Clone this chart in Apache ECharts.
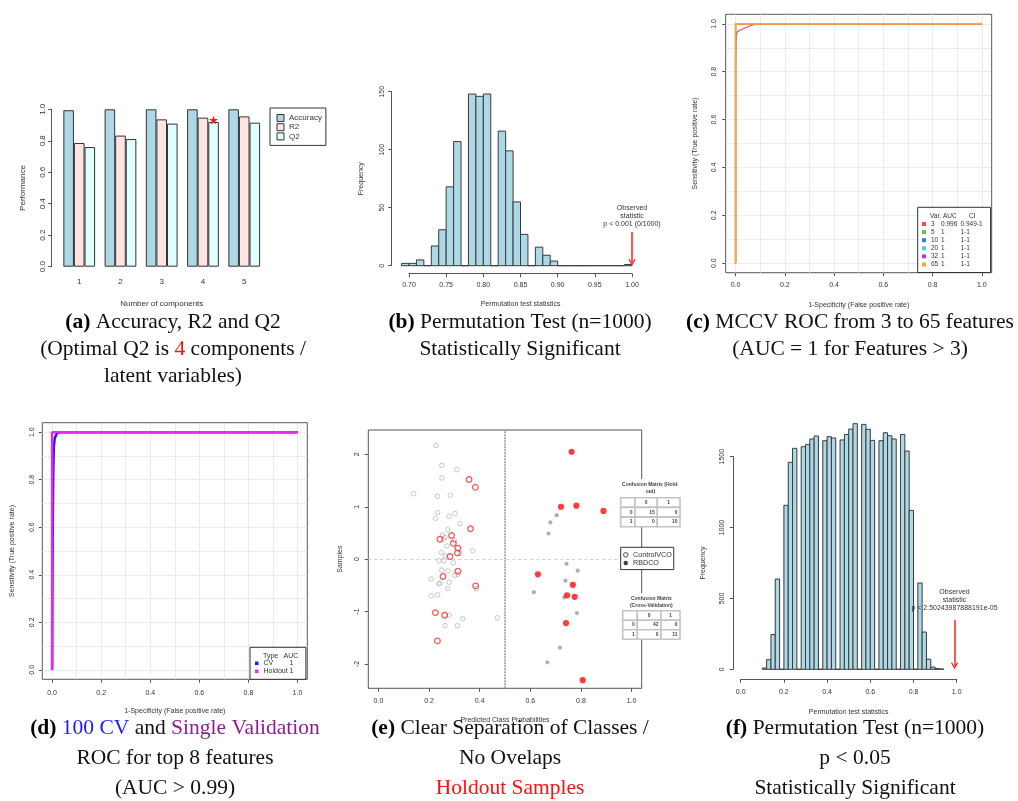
<!DOCTYPE html>
<html>
<head>
<meta charset="utf-8">
<script src="https://cdn.jsdelivr.net/npm/echarts@6/dist/echarts.min.js"></script>
<style>html,body{margin:0;padding:0;background:#fff}#c{width:1018px;height:801px}</style>
</head>
<body>
<div id="c"></div>
<script>
// ---------- (a) Accuracy, R2, Q2 ----------
const compCategories = ['1', '2', '3', '4', '5'];
const accuracyValues = [0.994, 1.0, 1.0, 1.0, 1.0];
const r2Values = [0.786, 0.833, 0.936, 0.947, 0.955];
const q2Values = [0.760, 0.811, 0.909, 0.919, 0.915];
const optimalComp = '4';

// ---------- (b) permutation histogram (bins of 0.01 from 0.69) ----------
const permBStart = 0.69;
const permBWidth = 0.01;
const permBCounts = [2, 2, 5, 0, 17, 31, 68, 107, 0, 148, 146, 148, 0, 116, 99, 55, 27, 0, 16, 9, 4, 0, 0, 0, 0, 0, 0, 0, 0, 0, 1];
const permBObserved = 1.0;
const permBText = 'Observed\nstatistic\np < 0.001 (0/1000)';

// ---------- (c) MCCV ROC ----------
const rocVars = ['3', '5', '10', '20', '32', '65'];
const rocAUC = ['0.996', '1', '1', '1', '1', '1'];
const rocCI = ['0.949-1', '1-1', '1-1', '1-1', '1-1', '1-1'];
const roc3 = [[0, 0], [0, 0.85], [0.002, 0.93], [0.004, 0.955], [0.007, 0.966], [0.018, 0.973], [0.038, 0.983], [0.065, 0.994], [0.083, 1], [1, 1]];
const roc5 = [[0, 0], [0, 1], [1, 1]];
const roc10 = [[0, 0], [0, 1], [1, 1]];
const roc20 = [[0, 0], [0, 1], [1, 1]];
const roc32 = [[0, 0], [0, 1], [1, 1]];
const roc65 = [[0, 0], [0, 1], [1, 1]];
const rocTicks = [0, 0.2, 0.4, 0.6, 0.8, 1.0];
const rocGridValues = [0, 0.1, 0.2, 0.3, 0.4, 0.5, 0.6, 0.7, 0.8, 0.9, 1.0];

// ---------- (d) CV and holdout ROC ----------
const rocTypes = ['CV', 'Holdout'];
const rocTypeAUC = ['1', '1'];
const cvROC = [[0, 0], [0.001, 0.3], [0.003, 0.65], [0.005, 0.85], [0.007, 0.94], [0.011, 0.975], [0.018, 0.992], [0.027, 0.999], [0.04, 1], [1, 1]];
const holdoutROC = [[0, 0], [0, 1], [1, 1]];

// ---------- (e) predicted class probabilities ----------
const trainControl = [[0.228, 2.17], [0.25, 1.79], [0.31, 1.71], [0.251, 1.55], [0.139, 1.25], [0.233, 1.20], [0.284, 1.22], [0.234, 0.89], [0.303, 0.87], [0.225, 0.78], [0.279, 0.82], [0.322, 0.68], [0.274, 0.56], [0.253, 0.46], [0.263, 0.42], [0.257, 0.38], [0.27, 0.25], [0.25, 0.13], [0.263, 0.06], [0.322, 0.11], [0.372, 0.16], [0.239, -0.03], [0.258, -0.03], [0.296, -0.07], [0.25, -0.21], [0.274, -0.23], [0.314, -0.29], [0.301, -0.31], [0.208, -0.38], [0.239, -0.47], [0.28, -0.44], [0.274, -0.56], [0.388, -0.56], [0.208, -0.70], [0.234, -0.68], [0.28, -1.07], [0.333, -1.14], [0.263, -1.27], [0.312, -1.27], [0.47, -1.12], [0.243, -0.46], [0.30, 0.36]];
const holdControl = [[0.358, 1.52], [0.383, 1.37], [0.364, 0.58], [0.243, 0.38], [0.289, 0.45], [0.296, 0.30], [0.314, 0.21], [0.312, 0.12], [0.283, 0.05], [0.314, -0.23], [0.255, -0.33], [0.384, -0.51], [0.225, -1.02], [0.262, -1.07], [0.233, -1.56]];
const trainRBD = [[0.704, 0.84], [0.679, 0.70], [0.672, 0.49], [0.743, -0.09], [0.787, -0.22], [0.739, -0.41], [0.614, -0.63], [0.734, -0.73], [0.784, -1.03], [0.717, -1.69], [0.667, -1.97]];
const holdRBD = [[0.763, 2.05], [0.721, 1.00], [0.782, 1.02], [0.889, 0.92], [0.63, -0.29], [0.768, -0.49], [0.745, -0.69], [0.775, -0.72], [0.741, -1.22], [0.807, -2.31]];
const probTicks = [0, 0.2, 0.4, 0.6, 0.8, 1.0];
const sampleTicks = [-2, -1, 0, 1, 2];
const classThreshold = 0.5;
const cmHoldout = [['', '0', '1'], ['0', '15', '0'], ['1', '0', '10']];
const cmCV = [['', '0', '1'], ['0', '42', '0'], ['1', '0', '11']];

// ---------- (f) permutation histogram (bins of 0.02 from 0.10) ----------
const permFStart = 0.10;
const permFWidth = 0.02;
const permFCounts = [9, 68, 245, 637, 0, 1157, 1460, 1559, 0, 1570, 1585, 1625, 1646, 0, 1613, 1641, 1632, 0, 1618, 1657, 1695, 1733, 0, 1728, 1693, 1615, 0, 1613, 1669, 1648, 1625, 0, 1657, 1540, 1121, 0, 609, 263, 71, 16, 5, 2];
const permFObserved = 0.99;
const permFText = 'Observed\nstatistic\np < 2.50243987888191e-05';

// ---------- helpers ----------
const FONT = 'Liberation Sans';
const AX = '#555';
const TX = '#333';
const chevron = 'path://M5,0 L10,7 L8.6,8 L5,2.8 L1.4,8 L0,7 Z';

function histData(start, width, counts) {
  return counts.map((c, i) => [+(start + i * width).toFixed(4), +(start + (i + 1) * width).toFixed(4), c]);
}
function histRender(params, api) {
  const p0 = api.coord([api.value(0), api.value(2)]);
  const p1 = api.coord([api.value(1), 0]);
  return {
    type: 'rect',
    shape: { x: p0[0], y: p0[1], width: p1[0] - p0[0], height: p1[1] - p0[1] },
    style: { fill: '#ADD8E6', stroke: '#3a3a3a', lineWidth: 1 }
  };
}
function rAxis(o) {
  const fs = o.fs || 7;
  const a = {
    type: o.type || 'value',
    gridIndex: o.grid,
    min: o.min, max: o.max,
    offset: o.offset || 0,
    name: o.name, nameLocation: 'middle', nameGap: o.nameGap,
    nameTextStyle: { fontSize: fs, color: TX, fontFamily: FONT },
    axisLine: { show: o.line !== false, onZero: false, lineStyle: { color: AX, width: 1 } },
    axisTick: { show: o.tick !== false, length: 3.5, lineStyle: { color: AX, width: 1 } },
    axisLabel: { fontSize: fs, color: TX, margin: o.margin, rotate: o.rotate || 0, fontFamily: FONT },
    splitLine: { show: false }
  };
  if (o.interval != null) a.interval = o.interval;
  if (o.data) a.data = o.data;
  if (o.custom) { a.axisLabel.customValues = o.custom; a.axisTick.customValues = o.custom; }
  a.axisLabel.formatter = o.fmt || (v => String(v));
  if (o.type === 'category') delete a.axisLabel.formatter;
  a.axisLabel.showMinLabel = true; a.axisLabel.showMaxLabel = true;
  return a;
}
const f1 = v => v.toFixed(1);
const f2 = v => v.toFixed(2);

// ---------- grids ----------
const grids = [
  { left: 58.6, top: 109.3, width: 206.25, height: 157.4 },       // a
  { left: 409, top: 91.7, width: 223, height: 174 },              // b
  { left: 725.7, top: 14.3, width: 266, height: 258.4, show: true, borderColor: '#555', borderWidth: 1 }, // c
  { left: 42.3, top: 422.7, width: 265, height: 256.6, show: true, borderColor: '#555', borderWidth: 1 }, // d
  { left: 368.3, top: 430, width: 273.4, height: 258.3, show: true, borderColor: '#555', borderWidth: 1 }, // e
  { left: 740.7, top: 456.7, width: 216, height: 212.6 }          // f
].map(g => Object.assign({ outerBoundsMode: 'none', containLabel: false }, g));

const xAxes = [
  rAxis({ type: 'category', grid: 0, data: compCategories, line: false, tick: false, fs: 8, margin: 11, name: 'Number of components', nameGap: 33 }),
  rAxis({ grid: 1, min: 0.7, max: 1.0, interval: 0.05, offset: 8, margin: 8, fmt: f2, name: 'Permutation test statistics', nameGap: 27 }),
  rAxis({ grid: 2, min: -0.04, max: 1.04, custom: rocTicks, line: false, margin: 9, fmt: f1, name: '1-Specificity (False positive rate)', nameGap: 29 }),
  rAxis({ grid: 3, min: -0.04, max: 1.04, custom: rocTicks, line: false, margin: 10, fmt: f1, name: '1-Specificity (False positive rate)', nameGap: 28 }),
  rAxis({ grid: 4, min: -0.04, max: 1.04, custom: probTicks, line: false, margin: 9, fmt: f1, name: 'Predicted Class Probabilities', nameGap: 28 }),
  rAxis({ grid: 5, min: 0, max: 1, interval: 0.2, offset: 10, margin: 9.5, fmt: f1, name: 'Permutation test statistics', nameGap: 29 })
];
const yAxes = [
  rAxis({ grid: 0, min: 0, max: 1, interval: 0.2, offset: 7, fs: 8, margin: 5, rotate: 90, fmt: f1, name: 'Performance', nameGap: 25 }),
  rAxis({ grid: 1, min: 0, max: 150, interval: 50, offset: 17.3, margin: 6, rotate: 90, name: 'Frequency', nameGap: 26.7 }),
  rAxis({ grid: 2, min: -0.04, max: 1.04, custom: rocTicks, line: false, margin: 8, rotate: 90, fmt: f1, name: 'Sensitivity (True positive rate)', nameGap: 26.7 }),
  rAxis({ grid: 3, min: -0.04, max: 1.04, custom: rocTicks, line: false, margin: 7, rotate: 90, fmt: f1, name: 'Sensitivity (True positive rate)', nameGap: 27 }),
  rAxis({ grid: 4, min: -2.465, max: 2.465, custom: sampleTicks, line: false, margin: 7.5, rotate: 90, name: 'Samples', nameGap: 25 }),
  rAxis({ grid: 5, min: 0, max: 1500, interval: 500, offset: 7.4, margin: 7.5, rotate: 90, name: 'Frequency', nameGap: 26.6 })
];

const barBase = { type: 'bar', xAxisIndex: 0, yAxisIndex: 0, barGap: '0%', barCategoryGap: '23%' };
const rocColors = ['#EE4B57', '#5CC83E', '#2F7BEF', '#3ED6E6', '#D82AD8', '#FFA726'];
const rocWidths = [1.2, 1.2, 1.2, 1.2, 1.2, 1.6];
const rocData = [roc3, roc5, roc10, roc20, roc32, roc65];

function gridLines(xi) {
  return {
    type: 'line', xAxisIndex: xi, yAxisIndex: xi, data: [], silent: true, z: 1,
    markLine: {
      silent: true, z: 1, zlevel: 0, symbol: ['none', 'none'], label: { show: false },
      lineStyle: { color: '#d9d9d9', type: 'dotted', width: 1 },
      data: rocGridValues.map(v => ({ xAxis: v })).concat(rocGridValues.map(v => ({ yAxis: v })))
    }
  };
}

const series = [
  Object.assign({ name: 'Accuracy', data: accuracyValues, itemStyle: { color: '#ADD8E6', borderColor: '#333', borderWidth: 1 } }, barBase),
  Object.assign({ name: 'R2', data: r2Values, itemStyle: { color: '#FFE4E1', borderColor: '#333', borderWidth: 1 } }, barBase),
  Object.assign({
    name: 'Q2', data: q2Values, itemStyle: { color: '#E0FFFF', borderColor: '#333', borderWidth: 1 },
    markPoint: {
      silent: true, symbol: 'path://M50,0 L61,35 L98,35 L68,57 L79,91 L50,70 L21,91 L32,57 L2,35 L39,35 Z',
      symbolSize: 9, symbolOffset: [0, -2], itemStyle: { color: '#FF1A1A' }, label: { show: false },
      data: [{ coord: [compCategories.indexOf(optimalComp), q2Values[compCategories.indexOf(optimalComp)]] }]
    }
  }, barBase),
  // (b)
  { type: 'custom', xAxisIndex: 1, yAxisIndex: 1, renderItem: histRender, encode: { x: [0, 1], y: 2 }, data: histData(permBStart, permBWidth, permBCounts), silent: true },
  {
    type: 'line', xAxisIndex: 1, yAxisIndex: 1, data: [], silent: true,
    markLine: {
      silent: true, symbol: ['none', chevron], symbolSize: 7, label: { show: false },
      lineStyle: { color: '#FF2020', width: 1.5, type: 'solid' },
      data: [[{ coord: [permBObserved, 29] }, { coord: [permBObserved, 3] }]]
    },
    markPoint: {
      silent: true, symbol: 'circle', symbolSize: 1, itemStyle: { color: 'rgba(0,0,0,0)' },
      label: { show: true, position: 'inside', formatter: permBText, fontSize: 7, lineHeight: 8, color: TX, fontFamily: FONT },
      data: [{ coord: [permBObserved, 43] }]
    }
  }
];
// (c)
series.push(gridLines(2));
rocVars.forEach((v, i) => {
  series.push({
    name: v, type: 'line', xAxisIndex: 2, yAxisIndex: 2, data: rocData[i], symbol: 'none', showSymbol: false,
    z: 10 + i, zlevel: i === rocVars.length - 1 ? 1 : 0, clip: false,
    lineStyle: { color: rocColors[i], width: rocWidths[i], opacity: 1 }, itemStyle: { color: rocColors[i] }
  });
});
// (d)
series.push(gridLines(3));
series.push({ name: 'CV', type: 'line', xAxisIndex: 3, yAxisIndex: 3, data: cvROC, symbol: 'none', z: 10, lineStyle: { color: '#1A1AFF', width: 2.5 }, itemStyle: { color: '#1A1AFF' } });
series.push({ name: 'Holdout', type: 'line', xAxisIndex: 3, yAxisIndex: 3, data: holdoutROC, symbol: 'none', z: 11, lineStyle: { color: '#F024F0', width: 2.5 }, itemStyle: { color: '#F024F0' } });
// (e)
series.push({
  type: 'line', xAxisIndex: 4, yAxisIndex: 4, data: [], silent: true, z: 1,
  markLine: {
    silent: true, z: 1, symbol: ['none', 'none'], label: { show: false },
    data: [
      { xAxis: classThreshold, lineStyle: { color: '#9a9a9a', type: [2, 1], width: 1.6 } },
      { yAxis: 0, lineStyle: { color: '#cfcfcf', type: [3, 3], width: 1 } }
    ]
  }
});
series.push({ name: 'ControlVCO', type: 'scatter', xAxisIndex: 4, yAxisIndex: 4, data: trainControl, symbol: 'circle', symbolSize: 4.6, z: 3, itemStyle: { color: 'rgba(0,0,0,0)', borderColor: '#b9b9b9', borderWidth: 1 } });
series.push({ name: 'RBDCO', type: 'scatter', xAxisIndex: 4, yAxisIndex: 4, data: trainRBD, symbol: 'circle', symbolSize: 4.2, z: 3, itemStyle: { color: '#9c9c9c' } });
series.push({ name: 'ControlVCO', type: 'scatter', xAxisIndex: 4, yAxisIndex: 4, data: holdControl, symbol: 'circle', symbolSize: 5.6, z: 4, itemStyle: { color: 'rgba(0,0,0,0)', borderColor: '#F03030', borderWidth: 1.3 } });
series.push({ name: 'RBDCO', type: 'scatter', xAxisIndex: 4, yAxisIndex: 4, data: holdRBD, symbol: 'circle', symbolSize: 6.2, z: 4, itemStyle: { color: '#FF0A0A' } });
// (f)
series.push({ type: 'custom', xAxisIndex: 5, yAxisIndex: 5, renderItem: histRender, encode: { x: [0, 1], y: 2 }, data: histData(permFStart, permFWidth, permFCounts), silent: true });
series.push({
  type: 'line', xAxisIndex: 5, yAxisIndex: 5, data: [], silent: true,
  markLine: {
    silent: true, symbol: ['none', chevron], symbolSize: 7, label: { show: false },
    lineStyle: { color: '#FF2020', width: 1.5, type: 'solid' },
    data: [[{ coord: [permFObserved, 348] }, { coord: [permFObserved, 25] }]]
  },
  markPoint: {
    silent: true, symbol: 'circle', symbolSize: 1, itemStyle: { color: 'rgba(0,0,0,0)' },
    label: { show: true, position: 'inside', formatter: permFText, fontSize: 7, lineHeight: 8.3, color: TX, fontFamily: FONT },
    data: [{ coord: [permFObserved, 489] }]
  }
});

// ---------- legends ----------
const lrich = (w) => ({ width: w, fontSize: 6.5, lineHeight: 7, fontFamily: FONT, color: TX });
const legends = [
  {
    data: ['Accuracy', 'R2', 'Q2'], left: 270, top: 108, orient: 'vertical', icon: 'rect',
    itemWidth: 7, itemHeight: 7, itemGap: 1.2, padding: [6, 4, 5, 6.5],
    borderColor: '#333', borderWidth: 1, backgroundColor: '#fff', selectedMode: false,
    itemStyle: { borderColor: '#333', borderWidth: 1 },
    textStyle: { fontSize: 8, lineHeight: 8, color: TX, fontFamily: FONT }
  },
  {
    data: rocVars, left: 917.7, top: 207.3, orient: 'vertical', icon: 'rect', zlevel: 2,
    itemWidth: 4, itemHeight: 4, itemGap: 1.1, padding: [13.2, 8, 4.5, 4.3],
    borderColor: '#333', borderWidth: 1, backgroundColor: '#fff', selectedMode: false,
    formatter: n => { const i = rocVars.indexOf(n); return '{v|' + n + '}{a|' + rocAUC[i] + '}{c|' + rocCI[i] + '}'; },
    textStyle: {
      fontSize: 6.5, lineHeight: 7, color: TX, fontFamily: FONT,
      rich: { v: lrich(10), a: lrich(19.5), c: lrich(undefined) }
    }
  },
  {
    data: rocTypes, left: 250, top: 647.3, orient: 'vertical', icon: 'rect',
    itemWidth: 3.5, itemHeight: 3.5, itemGap: 1, padding: [12.5, 12.5, 4.5, 5],
    borderColor: '#333', borderWidth: 1, backgroundColor: '#fff', selectedMode: false,
    formatter: n => '{n|' + n + '}{a|' + rocTypeAUC[rocTypes.indexOf(n)] + '}',
    textStyle: {
      fontSize: 7, lineHeight: 7, color: TX, fontFamily: FONT,
      rich: { n: { width: 26, fontSize: 7, lineHeight: 7, fontFamily: FONT, color: TX }, a: { fontSize: 7, lineHeight: 7, fontFamily: FONT, color: TX } }
    }
  },
  {
    data: [
      { name: 'ControlVCO', icon: 'circle', itemStyle: { color: 'rgba(0,0,0,0)', borderColor: '#222', borderWidth: 1 } },
      { name: 'RBDCO', icon: 'circle', itemStyle: { color: '#111', borderWidth: 0 } }
    ],
    left: 620.7, top: 547.3, orient: 'vertical', itemWidth: 4.5, itemHeight: 4.5, itemGap: 1.3,
    padding: [4, 2, 3, 2.3], borderColor: '#333', borderWidth: 1, backgroundColor: '#fff', selectedMode: false,
    textStyle: { fontSize: 7.2, lineHeight: 7, color: TX, fontFamily: FONT }
  }
];

// ---------- graphics: legend headers, confusion tables, captions ----------
const graphics = [];
function gtext(x, y, text, font, align) {
  return {
    type: 'text', z: 100, zlevel: 2, silent: true,
    style: { text: text, x: x, y: y, font: font, fill: TX, align: align || 'left', textAlign: align || 'left', verticalAlign: 'middle', textVerticalAlign: 'middle' }
  };
}
graphics.push(gtext(930, 216, 'Var.', '6.5px "Liberation Sans"'));
graphics.push(gtext(943, 216, 'AUC', '6.5px "Liberation Sans"'));
graphics.push(gtext(969, 216, 'CI', '6.5px "Liberation Sans"'));
graphics.push(gtext(263, 656, 'Type', '7px "Liberation Sans"'));
graphics.push(gtext(283.5, 656, 'AUC', '7px "Liberation Sans"'));

function cmTable(x0, y0, colW, rowH, cells, title, titleTop) {
  const total = colW.reduce((s, w) => s + w, 0);
  graphics.push({ type: 'rect', z: 99, silent: true, shape: { x: x0, y: titleTop - 2, width: total, height: y0 - titleTop + 2 }, style: { fill: '#fff' } });
  graphics.push({
    type: 'text', z: 100, silent: true,
    style: { text: title, x: x0 + total / 2, y: titleTop, font: 'bold 5px "Liberation Sans"', fill: '#444', align: 'center', textAlign: 'center', verticalAlign: 'top', textVerticalAlign: 'top', lineHeight: 7.3 }
  });
  cells.forEach((row, r) => {
    let xx = x0;
    row.forEach((c, ci) => {
      const y = y0 + r * rowH;
      graphics.push({ type: 'rect', z: 100, silent: true, shape: { x: xx, y: y, width: colW[ci], height: rowH }, style: { fill: '#fff', stroke: '#c4c4c4', lineWidth: 1.6 } });
      const isHead = r === 0;
      graphics.push({
        type: 'text', z: 101, silent: true,
        style: {
          text: c, x: isHead ? xx + colW[ci] / 2 : xx + colW[ci] - 2.5, y: y + rowH / 2,
          font: 'bold 5px "Liberation Sans"', fill: '#444',
          align: isHead ? 'center' : 'right', textAlign: isHead ? 'center' : 'right', verticalAlign: 'middle', textVerticalAlign: 'middle'
        }
      });
      xx += colW[ci];
    });
  });
}
cmTable(620.7, 497.7, [14.3, 22.3, 22.7], 9.7, cmHoldout, 'Confusion Matrix (Hold-\nout)', 481);
cmTable(622.7, 610.7, [14.6, 23.7, 19], 9.5, cmCV, 'Confusion Matrix\n(Cross-Validation)', 595);

const capFont = '21.5px "Liberation Serif"';
const capRich = {
  b: { font: 'bold 21.5px "Liberation Serif"', fill: '#000' },
  r: { font: capFont, fill: '#FF1010' },
  bl: { font: capFont, fill: '#1A1AFF' },
  pu: { font: capFont, fill: '#8E1E8E' }
};
function caption(x, yTop, text, lh) {
  const rich = {};
  Object.keys(capRich).forEach(k => { rich[k] = Object.assign({ lineHeight: lh }, capRich[k]); });
  graphics.push({
    type: 'text', z: 100, silent: true,
    style: { text: text, x: x, y: yTop, font: capFont, fill: '#111', align: 'center', textAlign: 'center', verticalAlign: 'top', textVerticalAlign: 'top', lineHeight: lh, rich: rich }
  });
}
caption(173, 309, '{b|(a)} Accuracy, R2 and Q2\n(Optimal Q2 is {r|4} components /\nlatent variables)', 27);
caption(520, 309, '{b|(b)} Permutation Test (n=1000)\nStatistically Significant', 27);
caption(850, 309, '{b|(c)} MCCV ROC from 3 to 65 features\n(AUC = 1 for Features > 3)', 27);
caption(175, 713, '{b|(d)} {bl|100 CV} and {pu|Single Validation}\nROC for top 8 features\n(AUC > 0.99)', 30);
caption(510, 713, '{b|(e)} Clear Separation of Classes /\nNo Ovelaps\n{r|Holdout Samples}', 30);
caption(855, 713, '{b|(f)} Permutation Test (n=1000)\np < 0.05\nStatistically Significant', 30);

const chart = echarts.init(document.getElementById('c'), null, { renderer: 'canvas', width: 1018, height: 801 });
chart.setOption({
  animation: false,
  backgroundColor: '#fff',
  textStyle: { fontFamily: FONT },
  grid: grids,
  xAxis: xAxes,
  yAxis: yAxes,
  legend: legends,
  series: series,
  graphic: { elements: graphics }
});
</script>
</body>
</html>
